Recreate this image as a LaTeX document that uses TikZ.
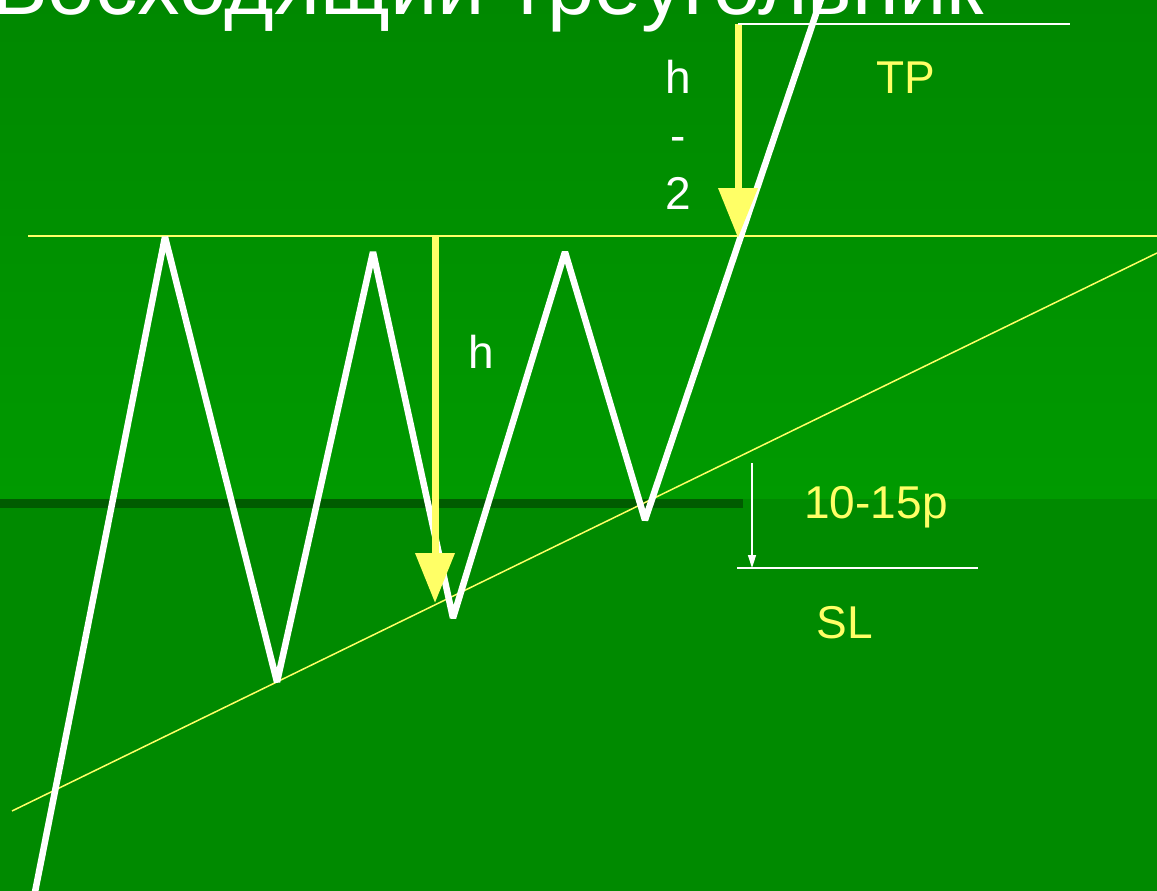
\documentclass[tikz,border=0pt]{standalone}
\usepackage{fontspec}
\setmainfont{Liberation Sans}
\usetikzlibrary{arrows.meta}
\definecolor{bgtop}{HTML}{008800}
\definecolor{bgmid}{HTML}{009A00}
\definecolor{bgbot}{HTML}{008A00}
\definecolor{bandc}{HTML}{005C00}
\definecolor{ylw}{HTML}{FFFF66}
\tikzset{
  zig/.style={white, line width=6.5pt, line join=bevel},
  yline/.style={ylw, line width=2pt},
  wthin/.style={white, line width=1.5pt},
  bigarrow/.style={ylw, line width=7pt, -{Triangle[width=38pt,length=50pt]}},
  smallarrow/.style={white, line width=1.5pt, -{Triangle[width=8pt,length=13pt]}},
  lbl/.style={inner sep=0pt, anchor=base, font=\fontsize{46}{50}\selectfont},
}
\begin{document}
\begin{tikzpicture}[x=1pt,y=-1pt]
\useasboundingbox (0,0) rectangle (1157,891);
\shade[top color=bgtop, bottom color=bgmid] (0,0) rectangle (1157,499);
\fill[bgbot] (0,499) rectangle (1157,891);
\fill[bandc] (0,499) rectangle (743,508);

\node[inner sep=0pt, anchor=base west, text=white, font=\fontsize{85}{95}\selectfont] (title) at (-9,15) {Восходящий треугольник};

% resistance and trend lines
\coordinate (r1) at (28,236);
\coordinate (r2) at (1157,236);
\draw[yline] (r1) -- (r2);
\coordinate (t1) at (12,811);
\coordinate (t2) at (1157,253);
\draw[ylw, line width=1.5pt] (t1) -- (t2);

% zigzag price
\coordinate (p0) at (34,897);
\coordinate (p1) at (165,237);
\coordinate (p2) at (277,682);
\coordinate (p3) at (373,252);
\coordinate (p4) at (453,618);
\coordinate (p5) at (565,252);
\coordinate (p6) at (645,520);
\coordinate (p7) at (822,-4);
\draw[zig] (p0) -- (p1) -- (p2) -- (p3) -- (p4) -- (p5) -- (p6) -- (p7);

% height arrows
\coordinate (a1s) at (435,236);
\coordinate (a1e) at (435,603);
\draw[bigarrow] (a1s) -- (a1e);
\coordinate (a2s) at (738,24);
\coordinate (a2e) at (738,238);
\draw[bigarrow] (a2s) -- (a2e);

% TP line
\coordinate (tp1) at (738,24);
\coordinate (tp2) at (1070,24);
\draw[wthin] (tp1) -- (tp2);

% SL
\coordinate (s0) at (752,463);
\coordinate (s1) at (752,568);
\draw[smallarrow] (s0) -- (s1);
\coordinate (sl1) at (737,568);
\coordinate (sl2) at (978,568);
\draw[wthin] (sl1) -- (sl2);

% labels
\node[lbl, text=white] (h1) at (481,368) {h};
\node[lbl, text=white] (h2a) at (678,93) {h};
\node[lbl, text=white] (h2b) at (678,151) {-};
\node[lbl, text=white] (h2c) at (678,209) {2};
\node[lbl, text=ylw] (tp) at (906,93) {TP};
\node[lbl, text=ylw] (pips) at (876,518) {10-15p};
\node[lbl, text=ylw] (sl) at (845,638) {SL};
\end{tikzpicture}
\end{document}
